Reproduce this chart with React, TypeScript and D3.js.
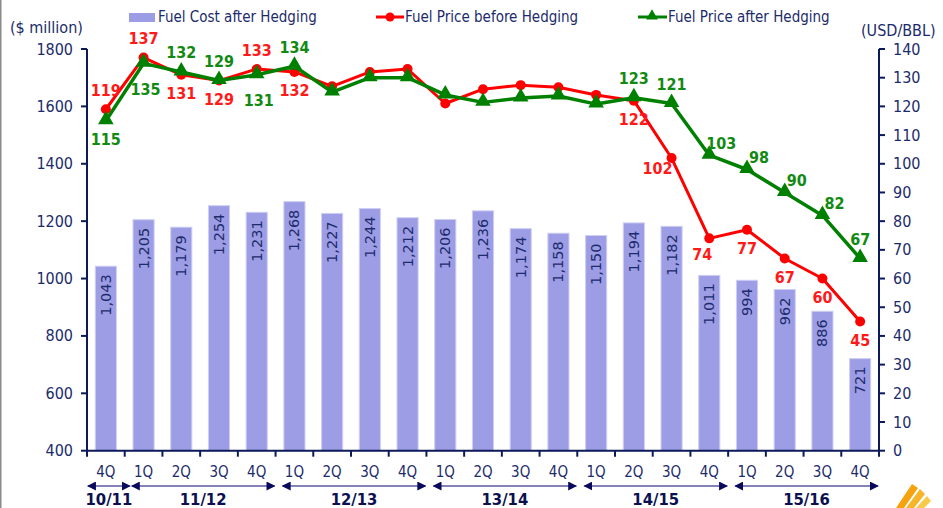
import { useMemo } from 'react'
import * as d3 from 'd3'

// quarters on the x axis (4Q 10/11 then FY11/12 .. FY15/16)
const quarters = ['4Q', '1Q', '2Q', '3Q', '4Q', '1Q', '2Q', '3Q', '4Q', '1Q', '2Q', '3Q', '4Q', '1Q', '2Q', '3Q', '4Q', '1Q', '2Q', '3Q', '4Q']
const fiscalYears = [
  { label: '10/11', from: 0, to: 0 },
  { label: '11/12', from: 1, to: 4 },
  { label: '12/13', from: 5, to: 8 },
  { label: '13/14', from: 9, to: 12 },
  { label: '14/15', from: 13, to: 16 },
  { label: '15/16', from: 17, to: 20 },
]

// $ million
const fuelCost = [1043, 1205, 1179, 1254, 1231, 1268, 1227, 1244, 1212, 1206, 1236, 1174, 1158, 1150, 1194, 1182, 1011, 994, 962, 886, 721]
// USD/BBL
const priceBefore = [119, 137, 131, 129, 133, 132, 127, 132, 133, 121, 126, 127.4, 126.7, 124, 122, 102, 74, 77, 67, 60, 45]
const priceAfter = [115, 135, 132, 129, 131, 134, 125, 130, 130, 124, 121.4, 122.9, 123.6, 120.8, 123, 121, 103, 98, 90, 82, 67]

// which points carry a data label, and where it sits relative to the point
type Place = 'a' | 'b' | 'bb' | 'l' | 'bl' | 'ar' | null
const placeBefore: Place[] = ['a', 'a', 'b', 'b', 'a', 'b', null, null, null, null, null, null, null, null, 'b', 'l', 'bl', 'b', 'b', 'b', 'b']
const placeAfter: Place[] = ['b', 'bb', 'a', 'a', 'bb', 'a', null, null, null, null, null, null, null, null, 'a', 'a', 'ar', 'ar', 'ar', 'ar', 'a']

const leftTicks = [400, 600, 800, 1000, 1200, 1400, 1600, 1800]
const rightTicks = [0, 10, 20, 30, 40, 50, 60, 70, 80, 90, 100, 110, 120, 130, 140]

const W = 943
const H = 508
const margin = { top: 49, right: 64, bottom: 57.3, left: 87 }

const FONT = "'DejaVu Sans Condensed', 'DejaVu Sans', sans-serif"
const BAR_FONT = "'DejaVu Sans', sans-serif"
const NAVY = '#0c1a5a'
const TEXT = '#1c2b6b'
const BAR = '#9d9de6'
const RED = '#ff0000'
const GREEN = '#008000'

const offsets: Record<string, [number, number]> = {
  a: [0, -19],
  b: [0, 19],
  bb: [2, 26],
  l: [-14, 10],
  bl: [-7, 16],
  ar: [12, -12],
}

function fmt(v: number) {
  return d3.format(',')(v)
}

export default function App() {
  const x0 = margin.left
  const x1 = W - margin.right
  const y0 = H - margin.bottom
  const y1 = margin.top

  const { x, yL, yR, lineFn } = useMemo(() => {
    const x = d3.scaleBand<number>().domain(d3.range(quarters.length)).range([x0, x1]).paddingInner(0.44).paddingOuter(0.22)
    const yL = d3.scaleLinear().domain([400, 1800]).range([y0, y1])
    const yR = d3.scaleLinear().domain([0, 140]).range([y0, y1])
    const lineFn = d3.line<number>().x((_, i) => (x(i) ?? 0) + x.bandwidth() / 2).y(d => yR(d))
    return { x, yL, yR, lineFn }
  }, [x0, x1, y0, y1])

  const cx = (i: number) => (x(i) ?? 0) + x.bandwidth() / 2
  const step = x.step()
  const tri = d3.symbol(d3.symbolTriangle, 105)() ?? ''
  const triSmall = d3.symbol(d3.symbolTriangle, 60)() ?? ''

  const labels = (vals: number[], places: Place[], color: string) =>
    vals.map((v, i) => {
      const p = places[i]
      if (!p) return null
      const [dx, dy] = offsets[p]
      return (
        <text key={i} x={cx(i) + dx} y={yR(v) + dy} textAnchor="middle" dominantBaseline="central"
          fontFamily={FONT} fontWeight="bold" fontSize={16} fill={color}>
          {Math.round(v)}
        </text>
      )
    })

  return (
    <svg width={W} height={H} style={{ position: 'fixed', left: 0, top: 0, background: '#fff' }}>
      {/* frame edge */}
      <line x1={0.75} x2={0.75} y1={0} y2={H} stroke="#8a8a8a" strokeWidth={1.5} />

      {/* legend */}
      <g fontFamily={FONT} fontSize={15} fill={TEXT}>
        <rect x={129} y={13} width={26} height={9} fill={BAR} />
        <text x={158} y={17} dominantBaseline="central">Fuel Cost after Hedging</text>
        <line x1={376} x2={404} y1={17} y2={17} stroke={RED} strokeWidth={3} />
        <circle cx={390} cy={17} r={4.5} fill={RED} />
        <text x={405} y={17} dominantBaseline="central">Fuel Price before Hedging</text>
        <line x1={638} x2={667} y1={17} y2={17} stroke={GREEN} strokeWidth={3} />
        <path d={triSmall} transform="translate(652,16)" fill={GREEN} />
        <text x={668} y={17} dominantBaseline="central">Fuel Price after Hedging</text>
      </g>

      {/* axis titles */}
      <text x={10} y={27} dominantBaseline="central" fontFamily={FONT} fontSize={16} fill={TEXT}>($ million)</text>
      <text x={861} y={30} dominantBaseline="central" fontFamily={FONT} fontSize={16} fill={TEXT}>(USD/BBL)</text>

      {/* bars */}
      {fuelCost.map((v, i) => (
        <g key={i}>
          <rect x={x(i)} y={yL(v)} width={x.bandwidth()} height={y0 - yL(v)} fill={BAR} stroke="#cfcff4" strokeWidth={1} />
          <text transform={`translate(${cx(i)},${yL(v) + 8}) rotate(-90)`} textAnchor="end" dominantBaseline="central"
            fontFamily={BAR_FONT} fontSize={14.5} fill={TEXT}>
            {fmt(v)}
          </text>
        </g>
      ))}

      {/* left axis */}
      <line x1={x0} x2={x0} y1={y1} y2={y0} stroke={NAVY} strokeWidth={2} />
      {leftTicks.map(t => (
        <g key={t}>
          <line x1={x0 - 6} x2={x0} y1={yL(t)} y2={yL(t)} stroke={NAVY} strokeWidth={2} />
          <text x={73} y={yL(t)} textAnchor="end" dominantBaseline="central" fontFamily={FONT} fontSize={16} fill={TEXT}>{t}</text>
        </g>
      ))}

      {/* right axis */}
      <line x1={x1} x2={x1} y1={y1} y2={y0} stroke={NAVY} strokeWidth={2} />
      {rightTicks.map(t => (
        <g key={t}>
          <line x1={x1} x2={x1 + 6} y1={yR(t)} y2={yR(t)} stroke={NAVY} strokeWidth={2} />
          <text x={893} y={yR(t)} dominantBaseline="central" fontFamily={FONT} fontSize={16} fill={TEXT}>{t}</text>
        </g>
      ))}

      {/* bottom axis */}
      <line x1={x0 - 1} x2={x1 + 1} y1={y0} y2={y0} stroke={NAVY} strokeWidth={2} />
      {d3.range(quarters.length + 1).map(i => (
        <line key={i} x1={x0 + i * step} x2={x0 + i * step} y1={y0} y2={y0 + 6} stroke={NAVY} strokeWidth={2} />
      ))}
      {quarters.map((q, i) => (
        <text key={i} x={cx(i)} y={472} textAnchor="middle" dominantBaseline="central" fontFamily={FONT} fontSize={15} fill={TEXT}>{q}</text>
      ))}

      {/* fiscal year spans */}
      <defs>
        <marker id="ah" viewBox="0 0 10 10" refX={9} refY={5} markerWidth={9} markerHeight={9} markerUnits="userSpaceOnUse" orient="auto-start-reverse">
          <path d="M0,0L10,5L0,10z" fill="#0a0a5c" />
        </marker>
      </defs>
      {fiscalYears.map(fy => {
        let a = x0 + fy.from * step + 7
        let b = x0 + (fy.to + 1) * step - 1
        const mid = (a + b) / 2
        if (b - a < 42) { a = mid - 21; b = mid + 21 }
        return (
          <g key={fy.label}>
            <line x1={a} x2={b} y1={486} y2={486} stroke="#5a5aa0" strokeWidth={1.5} markerStart="url(#ah)" markerEnd="url(#ah)" />
            <text x={mid} y={499} textAnchor="middle" dominantBaseline="central" fontFamily={FONT} fontWeight="bold" fontSize={16.5} fill="#0a1050">{fy.label}</text>
          </g>
        )
      })}

      {/* price lines */}
      <path d={lineFn(priceBefore) ?? ''} fill="none" stroke={RED} strokeWidth={3} strokeLinejoin="round" />
      {priceBefore.map((v, i) => <circle key={i} cx={cx(i)} cy={yR(v)} r={5} fill={RED} />)}
      <path d={lineFn(priceAfter) ?? ''} fill="none" stroke={GREEN} strokeWidth={3.5} strokeLinejoin="round" />
      {priceAfter.map((v, i) => <path key={i} d={tri} transform={`translate(${cx(i)},${yR(v) - 1})`} fill={GREEN} />)}

      {labels(priceBefore, placeBefore, '#ff1a1a')}
      {labels(priceAfter, placeAfter, '#128a12')}

      {/* corner logo */}
      <g>
        <path d="M896,508 L912,484 L918,488 L904,508 Z" fill="#f5a20f" />
        <path d="M906,508 L920,489 L925,494 L914,508 Z" fill="#f7b52a" />
        <path d="M916,508 L927,496 L931,501 L924,508 Z" fill="#f9c94a" />
      </g>
    </svg>
  )
}
